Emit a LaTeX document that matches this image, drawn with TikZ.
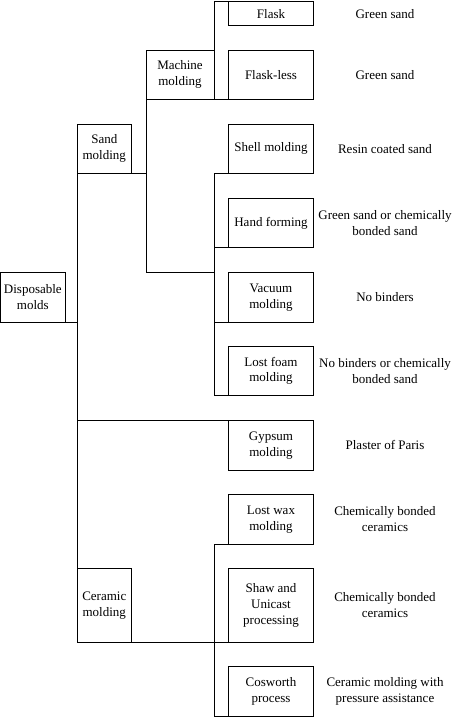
\documentclass[tikz,border=0pt]{standalone}
\usepackage{fontspec}
\setmainfont{Liberation Serif}
\begin{document}
\begin{tikzpicture}[x=1pt,y=-1pt,line width=0.9pt,
  txt/.style={align=center,font=\fontsize{13}{15.8}\selectfont},
  box/.style={txt,draw,anchor=north west,inner sep=0pt,outer sep=0pt},
  cbox/.style={box,minimum width=84.6pt},
  lab/.style={txt,inner sep=0pt}]
\useasboundingbox (0,0) rectangle (455,717);
% boxes
\node[box,minimum width=64.3pt,minimum height=50pt] (disp) at (0.7,272.3) {Disposable\\molds};
\node[box,minimum width=54pt,minimum height=49.3pt] (sand) at (77.3,124) {Sand\\molding};
\node[box,minimum width=68pt,minimum height=49.3pt] (mach) at (146,50) {Machine\\molding};
\node[box,minimum width=54pt,minimum height=74pt] (cer) at (77.3,568.3) {Ceramic\\molding};
\node[cbox,minimum height=24pt] (flask) at (228.7,1.7) {Flask};
\node[cbox,minimum height=49.3pt] (flaskless) at (228.7,50) {Flask-less};
\node[cbox,minimum height=49.3pt] (shell) at (228.7,124) {Shell molding};
\node[cbox,minimum height=49.4pt] (hand) at (228.7,198.3) {Hand forming};
\node[cbox,minimum height=50pt] (vac) at (228.7,272.3) {Vacuum\\molding};
\node[cbox,minimum height=49.7pt] (foam) at (228.7,346) {Lost foam\\molding};
\node[cbox,minimum height=49.3pt] (gyp) at (228.7,420.7) {Gypsum\\molding};
\node[cbox,minimum height=49.3pt] (wax) at (228.7,494.7) {Lost wax\\molding};
\node[cbox,minimum height=74pt] (shaw) at (228.7,568.3) {Shaw and\\Unicast\\processing};
\node[cbox,minimum height=49.3pt] (cos) at (228.7,666.7) {Cosworth\\process};
% labels
\coordinate (lx) at (385,0);
\node[lab] (lflask) at (flask.center -| lx) {Green sand};
\node[lab] (lflaskless) at (flaskless.center -| lx) {Green sand};
\node[lab] (lshell) at (shell.center -| lx) {Resin coated sand};
\node[lab] (lhand) at (hand.center -| lx) {Green sand or chemically\\bonded sand};
\node[lab] (lvac) at (vac.center -| lx) {No binders};
\node[lab] (lfoam) at (foam.center -| lx) {No binders or chemically\\bonded sand};
\node[lab] (lgyp) at (gyp.center -| lx) {Plaster of Paris};
\node[lab] (lwax) at (wax.center -| lx) {Chemically bonded\\ceramics};
\node[lab] (lshaw) at (shaw.center -| lx) {Chemically bonded\\ceramics};
\node[lab] (lcos) at (cos.center -| lx) {Ceramic molding with\\pressure assistance};
% connectors
\draw (disp.south east) -- (disp.south east -| sand.west);
\draw (sand.south west) -- (cer.south west);
\draw (gyp.north west) -- (gyp.north west -| sand.west);
\draw (sand.south east) -- (sand.south east -| mach.west) |- (vac.north west -| mach.east);
\draw (mach.south west) -- (sand.south -| mach.west);
\draw (flask.north west) -| (mach.south east) -- (flaskless.south west);
\draw (shell.south west) -- (shell.south west -| mach.east) -- (foam.south west -| mach.east) -- (foam.south west);
\draw (hand.south west) -- (hand.south west -| mach.east);
\draw (vac.south west) -- (vac.south west -| mach.east);
\draw (cer.south east) -- (shaw.south west);
\draw (wax.south west) -- (wax.south west -| mach.east) -- (cos.south west -| mach.east) -- (cos.south west);
\end{tikzpicture}
\end{document}
